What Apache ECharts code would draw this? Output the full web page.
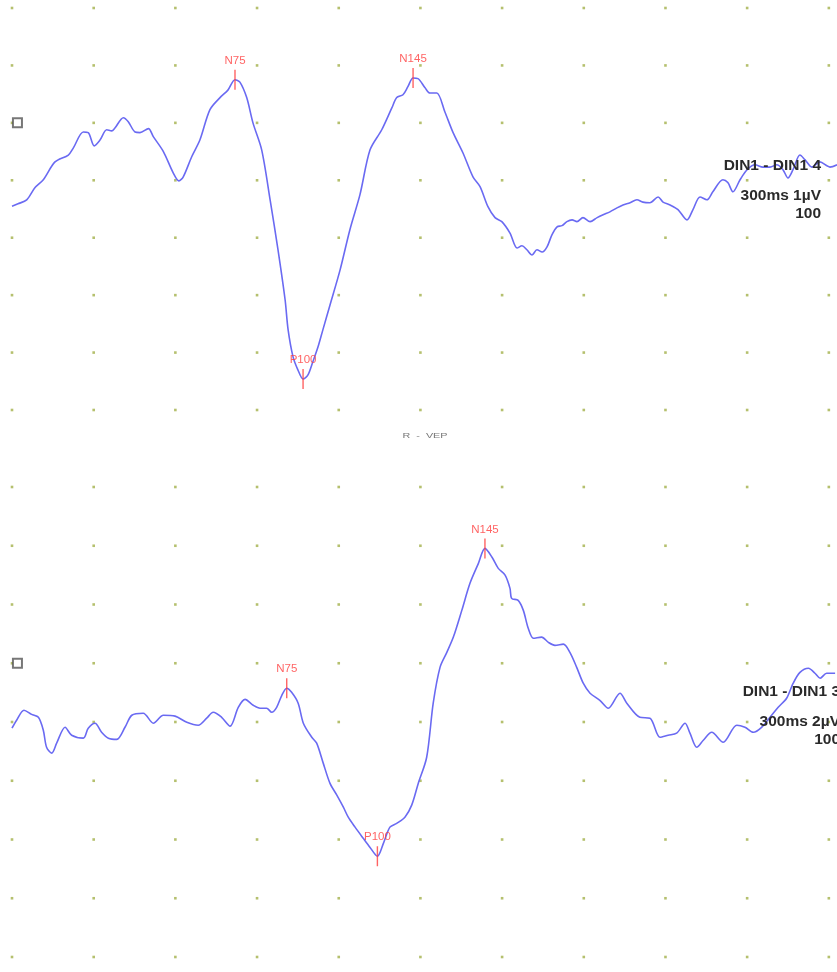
<!DOCTYPE html>
<html>
<head>
<meta charset="utf-8">
<title>R - VEP</title>
<script src="https://cdn.jsdelivr.net/npm/echarts@6/dist/echarts.min.js"></script>
<style>
  html, body { margin: 0; padding: 0; background: #ffffff; }
  #chart { width: 837px; height: 972px; }
</style>
</head>
<body>
<div id="chart"></div>
<script>
// Channel 4 trace (DIN1 - DIN1 4): latency in ms, amplitude in µV (negative up)
const topTime = [0, 2.2, 5.4, 8.4, 11.5, 15.8, 20.7, 22.5, 26.2, 28.0, 30.2, 32.3, 34.8, 36.6, 37.8, 40.9, 42.7, 45.2, 47.0, 50.1, 51.9, 55.6, 59.2, 61.3, 62.9, 66.0, 69.0, 72.7, 76.4, 79.3, 81.9, 83.7, 86.2, 88.5, 91.7, 94.8, 97.7, 100.3, 101.4, 103.2, 105.0, 106.9, 108.7, 110.5, 112.4, 114.2, 116.8, 120.5, 124.1, 127.8, 131.5, 135.8, 139.5, 141.3, 143.6, 145.4, 147.3, 149.1, 151.7, 153.5, 156.0, 159.0, 162.0, 165.6, 169.3, 171.9, 174.8, 177.4, 179.9, 182.9, 185.5, 187.3, 189.1, 191.0, 192.8, 194.7, 196.5, 198.3, 200.2, 202.0, 203.8, 205.7, 207.5, 209.7, 212.3, 214.9, 217.1, 219.6, 222.2, 224.4, 227.0, 229.5, 231.7, 234.3, 237.3, 239.1, 241.7, 244.6, 247.9, 250.1, 252.7, 255.2, 257.4, 261.1, 262.9, 264.8, 267.4, 269.9, 272.9, 275.8, 278.4, 280.9, 283.2, 285.0, 286.8, 289.4, 291.2, 293.8, 296.7, 300.4, 303.0];
const topAmp = [1.45, 1.41, 1.34, 1.13, 0.99, 0.68, 0.56, 0.44, 0.16, 0.17, 0.40, 0.30, 0.12, 0.14, 0.09, -0.09, -0.02, 0.16, 0.17, 0.10, 0.24, 0.50, 0.87, 1.01, 0.94, 0.59, 0.30, -0.23, -0.44, -0.57, -0.75, -0.71, -0.44, 0.00, 0.47, 1.34, 2.21, 3.08, 3.60, 4.07, 4.30, 4.46, 4.39, 4.16, 3.90, 3.60, 3.17, 2.56, 1.86, 1.25, 0.47, 0.12, -0.26, -0.44, -0.49, -0.63, -0.78, -0.77, -0.61, -0.52, -0.52, -0.19, 0.17, 0.52, 0.94, 1.11, 1.46, 1.65, 1.72, 1.92, 2.18, 2.14, 2.21, 2.30, 2.21, 2.25, 2.16, 1.95, 1.81, 1.79, 1.72, 1.69, 1.72, 1.65, 1.72, 1.65, 1.60, 1.55, 1.48, 1.43, 1.39, 1.34, 1.38, 1.39, 1.29, 1.38, 1.43, 1.51, 1.69, 1.51, 1.29, 1.34, 1.20, 0.99, 1.04, 1.20, 0.99, 0.82, 0.73, 0.77, 0.77, 0.73, 0.82, 0.96, 0.82, 0.56, 0.64, 0.77, 0.68, 0.77, 0.73];

// Channel 3 trace (DIN1 - DIN1 3)
const botTime = [0, 1.7, 4.4, 7.2, 9.7, 11.5, 12.7, 14.6, 16.4, 19.5, 21.9, 26.2, 28.0, 30.5, 32.9, 35.4, 38.5, 41.5, 44.0, 48.2, 51.9, 55.6, 59.9, 64.2, 68.4, 71.5, 73.9, 77.0, 80.1, 83.1, 85.6, 88.6, 91.1, 93.5, 95.4, 97.2, 99.1, 100.9, 102.7, 105.1, 107.0, 110.1, 111.9, 114.3, 116.8, 119.3, 121.7, 123.5, 126.0, 129.0, 131.5, 134.2, 136.4, 138.8, 141.3, 144.3, 146.8, 149.2, 152.3, 154.7, 157.2, 159.7, 162.1, 165.2, 168.2, 171.3, 173.7, 176.3, 178.6, 181.1, 182.9, 183.5, 185.9, 187.8, 189.6, 191.5, 194.5, 197.0, 199.4, 202.5, 204.9, 207.4, 209.8, 212.3, 215.9, 219.0, 223.3, 225.8, 230.6, 234.3, 238.0, 241.0, 244.1, 247.2, 249.0, 251.5, 253.9, 257.0, 261.2, 266.2, 269.2, 272.3, 275.3, 278.4, 281.4, 284.5, 286.9, 289.4, 292.5, 294.9, 296.8, 299.2, 302.3];
const botAmp = [2.21, 1.94, 1.60, 1.74, 1.84, 2.28, 2.86, 3.06, 2.72, 2.18, 2.45, 2.55, 2.21, 2.04, 2.35, 2.55, 2.59, 2.18, 1.77, 1.70, 2.04, 1.77, 1.80, 2.01, 2.11, 1.87, 1.67, 1.84, 2.14, 1.50, 1.23, 1.43, 1.53, 1.53, 1.67, 1.50, 1.09, 0.85, 0.99, 1.36, 2.04, 2.52, 2.72, 3.40, 4.09, 4.49, 4.90, 5.24, 5.58, 5.96, 6.27, 6.57, 6.13, 5.58, 5.45, 5.24, 4.83, 4.09, 3.20, 1.36, 0.14, -0.37, -0.89, -1.80, -2.72, -3.40, -3.91, -3.61, -3.23, -3.00, -2.55, -2.21, -2.14, -1.80, -1.19, -0.85, -0.89, -0.71, -0.61, -0.65, -0.37, 0.14, 0.68, 1.02, 1.26, 1.53, 1.02, 1.36, 1.84, 1.87, 2.52, 2.45, 2.38, 2.04, 2.38, 2.86, 2.62, 2.35, 2.69, 2.11, 2.18, 2.35, 2.18, 1.84, 1.50, 1.19, 0.68, 0.31, 0.17, 0.34, 0.51, 0.34, 0.34];

// Peak markers: name and latency (ms) on each trace
const peakNames = ['N75', 'P100', 'N145'];
const topPeakTimes = [81.9, 106.9, 147.3];
const botPeakTimes = [100.9, 134.2, 173.7];

// Division ticks: 30 ms per division, 1 µV (top) and 2 µV (bottom)
const timeTicks = [0, 30, 60, 90, 120, 150, 180, 210, 240, 270, 300];
const topAmpTicks = [-2, -1, 0, 1, 2, 3, 4, 5];
const botAmpTicks = [-6, -4, -2, 0, 2, 4, 6, 8, 10];

// Channel captions
const topCaption = ['DIN1 - DIN1 4', '300ms 1µV', '100'];
const botCaption = ['DIN1 - DIN1 3', '300ms 2µV', '100'];
const panelTitle = 'R  -  VEP';

const TRACE = '#6a6af2';
const MARK = '#ff3c3c';
const DOT = '#a2b04a';

const pairs = (xs, ys) => xs.map((x, i) => [x, ys[i]]);
const dotGrid = (xs, ys) => {
  const out = [];
  ys.forEach(y => xs.forEach(x => out.push([x, y])));
  return out;
};
const peakPoints = (times, xs, ys) => times.map((t, k) => {
  const i = xs.indexOf(t);
  return { name: peakNames[k], value: [xs[i], ys[i]] };
});

const chart = echarts.init(document.getElementById('chart'), null, { renderer: 'canvas' });

const xAxisBase = { type: 'value', min: 0, max: 303, interval: 30, show: false };

function panelSeries(idx, time, amp, ampTicks, peaks) {
  return [
    {
      type: 'scatter', xAxisIndex: idx, yAxisIndex: idx, silent: true,
      symbol: 'rect', symbolSize: 2.6, itemStyle: { color: DOT },
      data: dotGrid(timeTicks, ampTicks), z: 1
    },
    {
      type: 'line', xAxisIndex: idx, yAxisIndex: idx, silent: true,
      data: pairs(time, amp), showSymbol: false, smooth: 0.3,
      lineStyle: { color: TRACE, width: 1.6 }, z: 3
    },
    {
      type: 'scatter', xAxisIndex: idx, yAxisIndex: idx, silent: true,
      symbol: 'rect', symbolSize: [1.4, 20], itemStyle: { color: MARK },
      data: peaks, z: 4,
      label: {
        show: true, position: 'top', distance: 3, formatter: '{b}',
        color: MARK, fontSize: 11.5, fontFamily: 'Liberation Sans, Arial, sans-serif'
      }
    },
    {
      type: 'scatter', xAxisIndex: idx, yAxisIndex: idx, silent: true,
      symbol: 'rect', symbolSize: 9,
      itemStyle: { color: '#ffffff', borderColor: '#555555', borderWidth: 2 },
      data: [[2, 0]], z: 5
    }
  ];
}

function caption(lines, right, y0) {
  return lines.map((t, i) => ({
    type: 'text', silent: true, z: 10,
    x: right, y: y0 + [0, 30, 48][i],
    style: {
      text: t, align: 'right', verticalAlign: 'middle',
      fill: '#2a2a2a', font: 'bold 15.5px "Liberation Sans", Arial, sans-serif'
    }
  }));
}

chart.setOption({
  backgroundColor: '#ffffff',
  animation: false,
  grid: [
    { left: 12, right: 0, top: 8, height: 402 },
    { left: 12, right: 0, top: 487, height: 470 }
  ],
  xAxis: [
    Object.assign({ gridIndex: 0 }, xAxisBase),
    Object.assign({ gridIndex: 1 }, xAxisBase)
  ],
  yAxis: [
    { gridIndex: 0, type: 'value', inverse: true, min: -2, max: 5, interval: 1, show: false },
    { gridIndex: 1, type: 'value', inverse: true, min: -6, max: 10, interval: 2, show: false }
  ],
  series: [].concat(
    panelSeries(0, topTime, topAmp, topAmpTicks, peakPoints(topPeakTimes, topTime, topAmp)),
    panelSeries(1, botTime, botAmp, botAmpTicks, peakPoints(botPeakTimes, botTime, botAmp))
  ),
  graphic: [].concat(
    caption(topCaption, 821, 166),
    caption(botCaption, 840, 692),
    [{
      type: 'text', silent: true, x: 425, y: 436, scaleX: 1.35,
      style: {
        text: panelTitle, align: 'center', verticalAlign: 'middle',
        fill: '#777777', font: '8px "Liberation Sans", Arial, sans-serif'
      }
    }]
  )
});
</script>
</body>
</html>
